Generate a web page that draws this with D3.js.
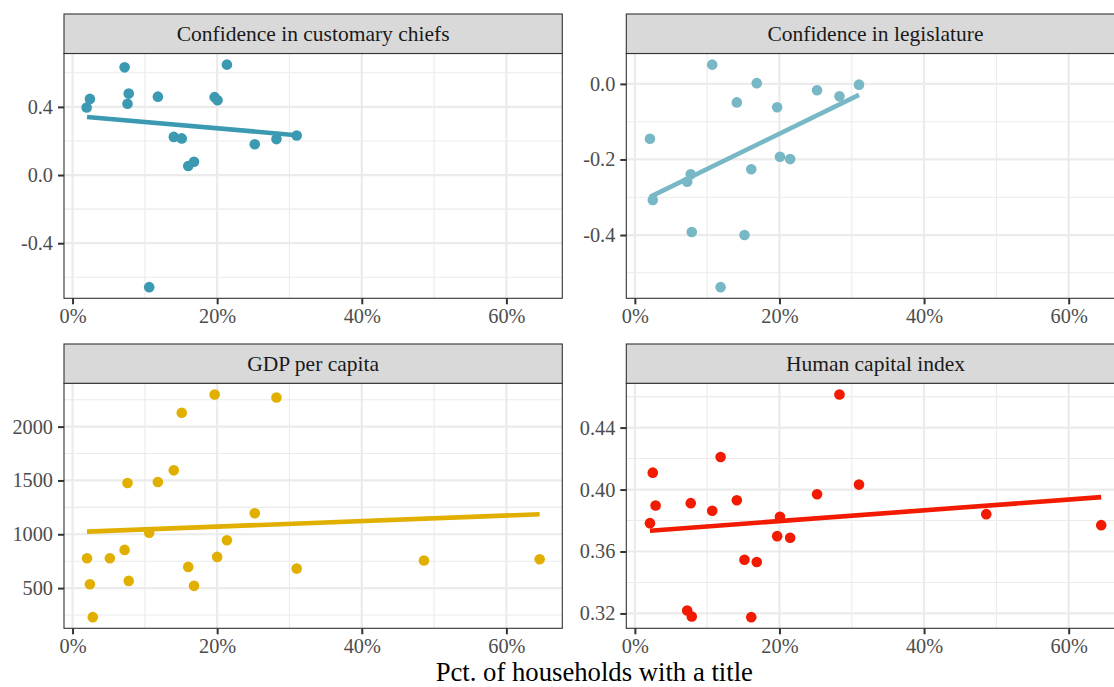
<!DOCTYPE html>
<html><head><meta charset="utf-8">
<script src="https://cdn.jsdelivr.net/npm/d3@7"></script>
<style>body{margin:0;background:#fff}svg{display:block}text{font-family:"Liberation Serif","Times New Roman",serif}</style>
</head><body>
<script>
// ---- data ----
const panelTitles = ["Confidence in customary chiefs","Confidence in legislature","GDP per capita","Human capital index"];
const panelColors = ["#3B9AB2","#78B7C5","#E1AF00","#F21A00"];

const chiefsX = [1.95,2.4,7.2,7.77,7.6,11.8,10.6,14.0,15.1,16.0,16.8,19.65,20.05,21.35,25.2,28.2,31.0];
const chiefsY = [0.396,0.447,0.632,0.478,0.418,0.460,-0.658,0.224,0.215,0.053,0.078,0.457,0.439,0.648,0.181,0.211,0.232];

const legisX = [2.09,2.48,10.7,7.24,7.73,7.87,11.86,14.1,15.16,16.1,16.86,19.68,20.07,21.48,25.2,28.3,31.0];
const legisY = [-0.145,-0.307,0.051,-0.259,-0.239,-0.392,-0.538,-0.049,-0.400,-0.226,0.002,-0.062,-0.193,-0.199,-0.017,-0.033,-0.002];

const gdpX = [2.0,2.4,2.8,5.16,7.2,7.6,7.77,10.6,11.8,14.0,15.1,16.0,16.8,19.65,20.0,21.35,25.2,28.2,31.0,48.6,64.6];
const gdpY = [777,536,230,777,855,1476,567,1015,1486,1594,2129,697,521,2299,790,944,1195,2271,681,756,768];

const hciX = [2.09,2.48,2.87,7.24,7.87,7.73,10.7,11.86,14.1,15.16,16.1,16.86,19.68,20.07,21.48,25.2,28.3,31.0,48.6,64.5];
const hciY = [0.3783,0.4109,0.3897,0.3219,0.318,0.3912,0.3863,0.421,0.3931,0.3547,0.3176,0.3532,0.3699,0.3824,0.3689,0.397,0.4614,0.4032,0.3841,0.377];

// fitted (lm) line end points
const fitX = [[2.0,31.0],[2.1,31.0],[2.0,64.6],[2.09,64.5]];
const fitY = [[0.341,0.234],[-0.299,-0.029],[1025,1186],[0.3734,0.3951]];

const yBreaks = [[-0.4,0.0,0.4],[-0.4,-0.2,0.0],[500,1000,1500,2000],[0.32,0.36,0.40,0.44]];
const yMinor  = [[-0.6,-0.2,0.2,0.6],[-0.5,-0.3,-0.1],[250,750,1250,1750,2250],[0.34,0.38,0.42,0.46]];
const yFormats = [".1f",".1f","d",".2f"];
const xBreaks = [0,20,40,60];
const xMinor = [10,30,50];
const xTitle = "Pct. of households with a title";

// ---- layout ----
const W = 1114, H = 687;
const colX = [[64,562.3],[626.3,1124.6]];
const rowY = [{strip:14, top:53.5, bottom:298.3},{strip:344, top:383.3, bottom:628.3}];
const svg = d3.select("body").append("svg").attr("width",W).attr("height",H);

const xs = [chiefsX,legisX,gdpX,hciX], ys = [chiefsY,legisY,gdpY,hciY];
const allX = [].concat(...xs);
const xExt = d3.extent(allX), xPad = (xExt[1]-xExt[0])*0.05;

const grid = "#EBEBEB", dark = "#333333";
for (let p=0;p<4;p++){
  const c = colX[p%2], r = rowY[Math.floor(p/2)];
  const x = d3.scaleLinear().domain([xExt[0]-xPad, xExt[1]+xPad]).range(c);
  const yExt = d3.extent(ys[p]), yPad=(yExt[1]-yExt[0])*0.05;
  const y = d3.scaleLinear().domain([yExt[0]-yPad, yExt[1]+yPad]).range([r.bottom, r.top]);
  const g = svg.append("g");
  g.append("rect").attr("x",c[0]).attr("y",r.top).attr("width",c[1]-c[0]).attr("height",r.bottom-r.top).attr("fill","#fff");
  g.selectAll(null).data(xMinor).join("line").attr("x1",d=>x(d)).attr("x2",d=>x(d)).attr("y1",r.top).attr("y2",r.bottom).attr("stroke",grid).attr("stroke-width",1.1);
  g.selectAll(null).data(yMinor[p]).join("line").attr("y1",d=>y(d)).attr("y2",d=>y(d)).attr("x1",c[0]).attr("x2",c[1]).attr("stroke",grid).attr("stroke-width",1.1);
  g.selectAll(null).data(xBreaks).join("line").attr("x1",d=>x(d)).attr("x2",d=>x(d)).attr("y1",r.top).attr("y2",r.bottom).attr("stroke",grid).attr("stroke-width",2.2);
  g.selectAll(null).data(yBreaks[p]).join("line").attr("y1",d=>y(d)).attr("y2",d=>y(d)).attr("x1",c[0]).attr("x2",c[1]).attr("stroke",grid).attr("stroke-width",2.2);
  g.append("line").attr("x1",x(fitX[p][0])).attr("x2",x(fitX[p][1])).attr("y1",y(fitY[p][0])).attr("y2",y(fitY[p][1]))
    .attr("stroke",panelColors[p]).attr("stroke-width",4.6);
  g.selectAll(null).data(xs[p].map((v,i)=>[v,ys[p][i]])).join("circle")
    .attr("cx",d=>x(d[0])).attr("cy",d=>y(d[1])).attr("r",5.3).attr("fill",panelColors[p]);
  g.append("rect").attr("x",c[0]).attr("y",r.top).attr("width",c[1]-c[0]).attr("height",r.bottom-r.top).attr("fill","none").attr("stroke",dark).attr("stroke-width",1.1);
  g.append("rect").attr("x",c[0]).attr("y",r.strip).attr("width",c[1]-c[0]).attr("height",r.top-r.strip).attr("fill","#D9D9D9").attr("stroke",dark).attr("stroke-width",1.1);
  g.append("text").attr("x",(c[0]+c[1])/2).attr("y",(r.strip+r.top)/2).attr("dy","0.35em").attr("text-anchor","middle")
    .attr("font-size",21.5).attr("fill","#1A1A1A").text(panelTitles[p]);
  const ax = d3.axisBottom(x).tickValues(xBreaks).tickFormat(d=>d+"%").tickSize(6).tickPadding(4);
  const axg = g.append("g").attr("transform",`translate(0,${r.bottom})`).call(ax);
  const fmt = d3.format(yFormats[p]);
  const ay = d3.axisLeft(y).tickValues(yBreaks[p]).tickFormat(d=>fmt(d).replace("\u2212","-")).tickSize(6).tickPadding(5);
  const ayg = g.append("g").attr("transform",`translate(${c[0]},0)`).call(ay);
  [axg,ayg].forEach(a=>{
    a.select(".domain").remove();
    a.selectAll(".tick line").attr("stroke",dark).attr("stroke-width",2);
    a.selectAll(".tick text").attr("fill","#4D4D4D").attr("font-size",20.3).attr("font-family","Liberation Serif");
  });
}
svg.append("text").attr("x",(colX[0][0]+colX[1][1])/2).attr("y",681).attr("text-anchor","middle")
  .attr("font-size",26.7).attr("fill","#000").text(xTitle);
</script>
</body></html>
